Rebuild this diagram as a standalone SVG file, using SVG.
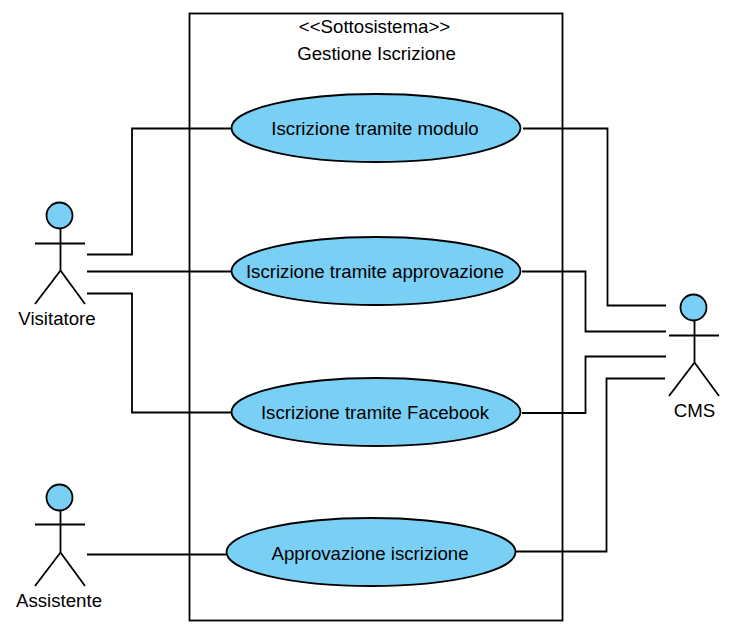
<svg xmlns="http://www.w3.org/2000/svg" width="735" height="640" viewBox="0 0 735 640">
<style>
text{font-family:"Liberation Sans",Arial,sans-serif;font-size:18.67px;fill:#000;text-anchor:middle}
.l{fill:none;stroke:#000;stroke-width:1.8}
.f{fill:#7ACFF5;stroke:#000;stroke-width:1.8}
</style>
<rect width="735" height="640" fill="#fff"/>
<g id="system"><rect class="l" x="189.5" y="13.5" width="373" height="607"/>
<text x="374.5" y="33">&lt;&lt;Sottosistema&gt;&gt;</text>
<text x="376.5" y="60">Gestione Iscrizione</text></g>
<g id="connectors" class="l">
<path d="M87 254.500H132V128.500H231"/>
<path d="M87 271.500H231"/>
<path d="M87 293.500H132V412.500H231"/>
<path d="M87 554.500H226"/>
<path d="M523 128.500H607.500V305.500H666"/>
<path d="M522 271.500H585.500V331.500H666"/>
<path d="M522 413H585.500V356.500H666"/>
<path d="M516 551.500H606.500V378.500H665"/>
</g>
<g id="uc1"><ellipse class="f" cx="376" cy="128" rx="144.500" ry="34"/><text x="375" y="135">Iscrizione tramite modulo</text></g>
<g id="uc2"><ellipse class="f" cx="376" cy="271" rx="144.500" ry="34"/><text x="375" y="278">Iscrizione tramite approvazione</text></g>
<g id="uc3"><ellipse class="f" cx="376" cy="412" rx="144.500" ry="34"/><text x="375" y="419">Iscrizione tramite Facebook</text></g>
<g id="uc4"><ellipse class="f" cx="371" cy="552" rx="144.500" ry="34"/><text x="370" y="560">Approvazione iscrizione</text></g>
<g id="visitatore"><circle class="f" cx="59.500" cy="215.500" r="13"/><path class="l" d="M60.500 228.500V270.500M35 243.500H85M35 304L60.500 270.500L85 304"/><text x="57" y="325">Visitatore</text></g>
<g id="assistente"><circle class="f" cx="59.500" cy="497.500" r="13"/><path class="l" d="M60.500 510.500V552.500M35 524.500H85M35 586L60.500 552.500L85 586"/><text x="59" y="607">Assistente</text></g>
<g id="cms"><circle class="f" cx="693.500" cy="307.500" r="13"/><path class="l" d="M694.500 320.500V362.500M669 335.500H719M669 396L694.500 362.500L719 396"/><text x="694.500" y="417">CMS</text></g>
</svg>
